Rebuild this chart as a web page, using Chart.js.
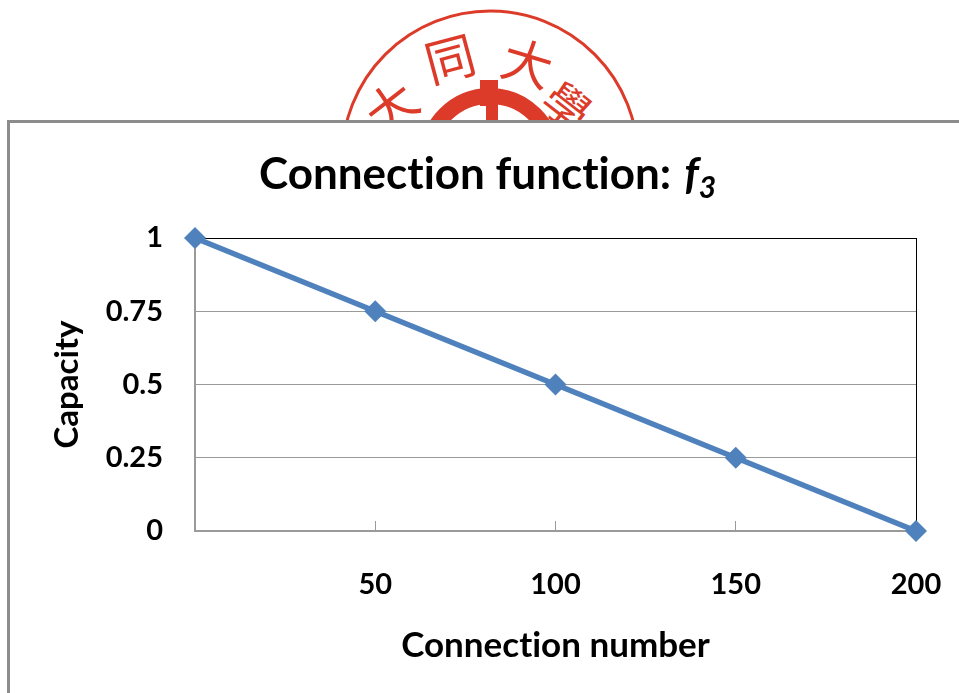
<!DOCTYPE html>
<html>
<head>
<meta charset="utf-8">
<title>Connection function</title>
<script src="https://cdn.jsdelivr.net/npm/chart.js@4"></script>
<style>
  html, body { margin: 0; padding: 0; background: #fff; overflow: hidden; width: 959px; height: 693px; }
  #seal { position: absolute; left: 0; top: 0; }
  #frame { position: absolute; left: 7px; top: 120px; width: 1000px; height: 700px; background: #fff; border: 3px solid #8c8c8c; }
  #myChart { position: absolute; left: 0; top: 0; }
</style>
</head>
<body>
<svg id="seal" width="959" height="130" xmlns="http://www.w3.org/2000/svg">
  <circle cx="490" cy="159" r="148" fill="none" stroke="#dd3b2a" stroke-width="3"/>
  <circle cx="490" cy="159" r="63" fill="none" stroke="#dd3b2a" stroke-width="16"/>
  <rect x="480" y="80" width="18" height="26" fill="#dd3b2a"/>
  <rect x="486" y="100" width="12" height="30" fill="#dd3b2a"/>
  <g fill="#dd3b2a" font-family="'Noto Sans CJK TC'" font-weight="400" font-size="50" text-anchor="middle">
    <text transform="translate(403,122) rotate(-38)">大</text>
    <text transform="translate(455,77) rotate(-15)">同</text>
    <text transform="translate(522,81) rotate(17)">大</text>
    <text transform="translate(556,120) rotate(38)" font-size="46">學</text>
  </g>
</svg>
<div id="frame"></div>
<canvas id="myChart" width="959" height="693"></canvas>
<script>
const categories = ['', '50', '100', '150', '200'];
const capacity = [1, 0.75, 0.5, 0.25, 0];
const yTicks = { 1: '1', 0.75: '0.75', 0.5: '0.5', 0.25: '0.25', 0: '0' };

const FONT = 'Lato';

// title has an italic subscript so the title plugin can't draw it
const titleParts = {
  id: 'titleParts',
  beforeDraw(chart) {
    chart.ctx.textRendering = 'optimizeSpeed'; // no "ti" ligatures
  },
  afterDraw(chart) {
    const c = chart.ctx;
    c.save();
    c.fillStyle = '#000';
    c.textBaseline = 'alphabetic';
    c.textAlign = 'left';
    let x = 259;
    c.font = 'bold 44px ' + FONT;
    c.fillText('Connection function:', x, 189);
    x += c.measureText('Connection function:').width + 13;
    c.font = 'italic bold 44px ' + FONT;
    c.fillText('f', x, 189);
    x += c.measureText('f').width;
    c.font = 'italic bold 30px ' + FONT;
    c.fillText('3', x, 198);
    c.restore();
  }
};

new Chart(document.getElementById('myChart'), {
  type: 'line',
  data: {
    labels: categories,
    datasets: [{
      label: 'Capacity',
      data: capacity,
      borderColor: '#4f81bd',
      backgroundColor: '#4f81bd',
      borderWidth: 5.5,
      pointStyle: 'rectRot',
      pointRadius: 11,
      pointHoverRadius: 11,
      pointBorderWidth: 0,
      tension: 0,
      clip: false
    }]
  },
  options: {
    responsive: false,
    animation: false,
    layout: { padding: { left: 10, top: 238, right: 43, bottom: 10 } },
    plugins: { legend: { display: false }, tooltip: { enabled: false } },
    scales: {
      x: {
        type: 'category',
        offset: false,
        afterFit(s) { s.height = 152; s.paddingLeft = 0; s.paddingRight = 0; },
        border: { color: '#9a9a9a', width: 2 },
        grid: {
          color: ctx => ctx.index === categories.length - 1 ? '#000' : 'rgba(0,0,0,0)',
          tickColor: '#9a9a9a',
          tickLength: -10,
          lineWidth: 1
        },
        ticks: {
          color: '#000',
          padding: 46,
          maxRotation: 0,
          autoSkip: false,
          font: { family: FONT, weight: 'bold', size: 29 }
        },
        title: {
          display: true,
          text: 'Connection number',
          color: '#000',
          font: { family: FONT, weight: 'bold', size: 35 },
          padding: { top: 0, bottom: 16 }
        }
      },
      y: {
        min: 0,
        max: 1,
        afterFit(s) { s.width = 185; },
        border: { color: '#9a9a9a', width: 2 },
        grid: {
          color: ctx => ctx.tick && ctx.tick.value === 1 ? '#000' : '#9a9a9a',
          lineWidth: 1,
          drawTicks: false
        },
        ticks: {
          stepSize: 0.25,
          color: '#000',
          padding: 32,
          font: { family: FONT, weight: 'bold', size: 29 },
          callback: v => yTicks[v]
        },
        title: {
          display: true,
          text: 'Capacity',
          color: '#000',
          font: { family: FONT, weight: 'bold', size: 33 },
          padding: { top: 38, bottom: 0 }
        }
      }
    }
  },
  plugins: [titleParts]
});
</script>
</body>
</html>
